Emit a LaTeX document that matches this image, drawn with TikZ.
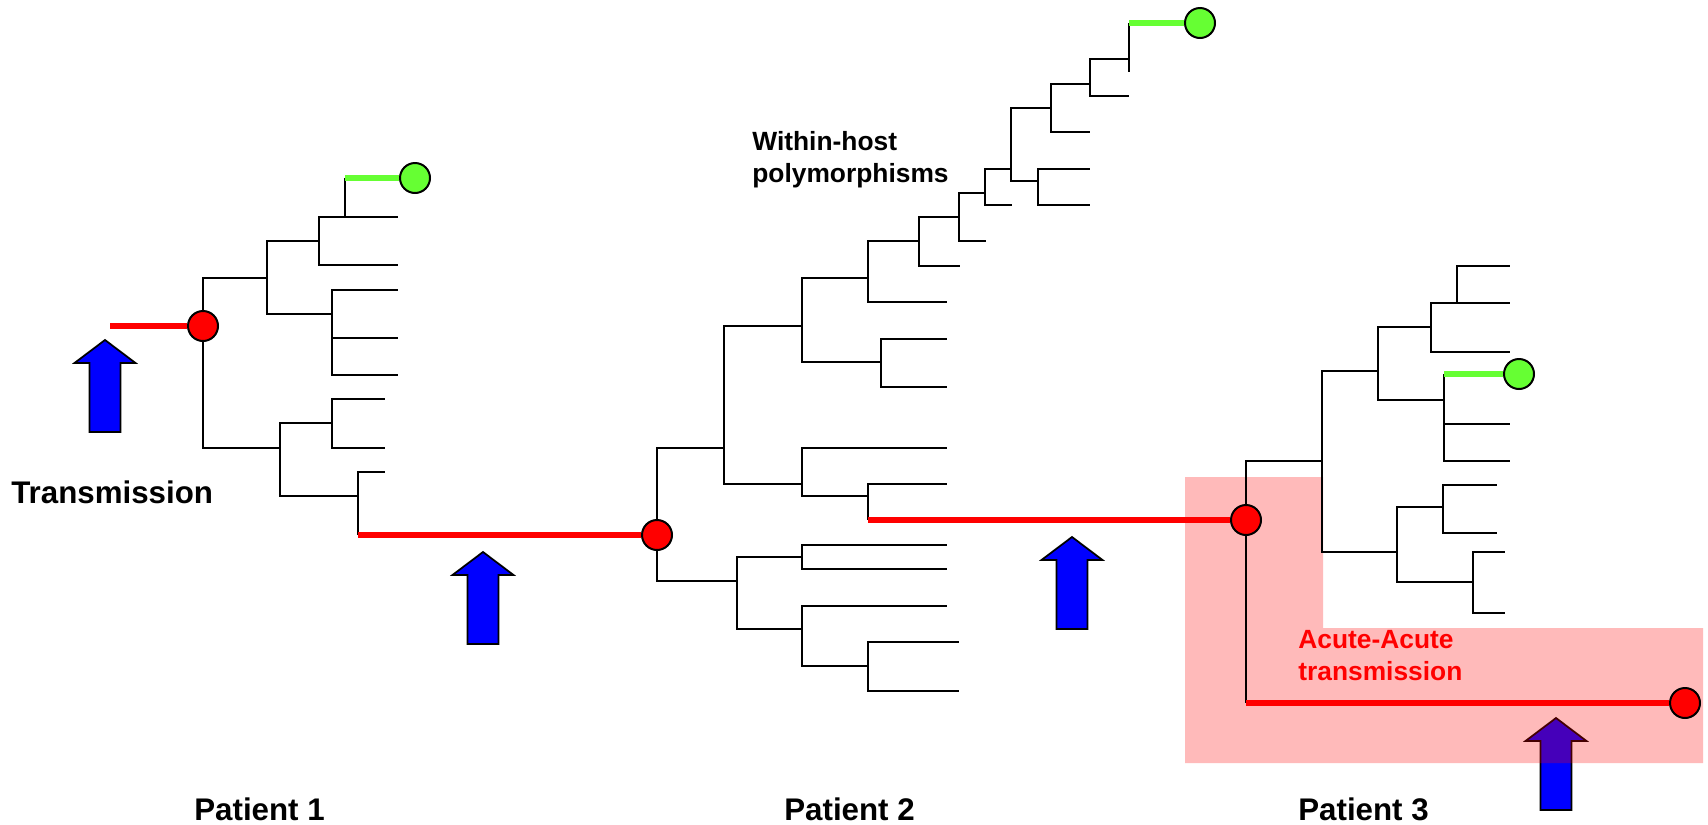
\documentclass[tikz,border=0pt]{standalone}
\usepackage{fontspec}
\setmainfont{Liberation Sans}
\definecolor{limefill}{RGB}{102,255,51}

\begin{document}
\begin{tikzpicture}[
  x=0.02cm, y=-0.02cm,
  branch/.style={line width=0.04cm, draw=black},
  redline/.style={line width=0.11cm, draw=red},
  greenline/.style={line width=0.13cm, draw=limefill},
  redc/.style={circle, draw=black, fill=red, line width=0.04cm, inner sep=0pt, minimum size=0.6cm},
  greenc/.style={redc, fill=limefill},
  arrowbody/.style={draw=black, fill=blue, line width=0.035cm, line join=miter},
  upshaft/.pic={\draw[arrowbody] (0,0) -- (30.5,23) -- (15.5,23) -- (15.5,92)
                  -- (-15.5,92) -- (-15.5,23) -- (-30.5,23) -- cycle;},
  hatch/.style={fill=red, fill opacity=0.27},
  plabel/.style={font=\bfseries\fontsize{17.8}{21}\selectfont, inner sep=0pt, anchor=base west},
  note/.style={font=\bfseries\fontsize{15}{18.1}\selectfont, inner sep=0pt, anchor=base west, align=left}
]
  \useasboundingbox (0,0) rectangle (1708,825);

  % --- FLECHAS DE TRANSMISION ---
  \pic at (105,340) {upshaft};
  \pic at (483,552) {upshaft};
  \pic at (1072,537) {upshaft};
  \pic at (1556,718) {upshaft};

  % zona sombreada (aguda-aguda)
  \fill[hatch] (1185,477) -- (1323,477) -- (1323,628) -- (1703,628)
     -- (1703,763) -- (1185,763) -- cycle;

  % --- PACIENTE 1 ---
  \node[redc] (R1) at (203,326) {};
  \node[greenc] (G1) at (415,178) {};
  \coordinate (in1) at (110,326);
  \coordinate (a1) at (267,278);
  \coordinate (b1) at (280,448);
  \coordinate (c1) at (319,241);
  \coordinate (d1) at (332,314);
  \coordinate (e1) at (345,217);
  \coordinate (f1) at (332,423);
  \coordinate (h1) at (358,496);
  \coordinate (g1) at (345,178);
  \coordinate (out1) at (358,535);
  \coordinate (k1) at (398,217);
  \coordinate (k2) at (398,265);
  \coordinate (k3) at (398,290);
  \coordinate (k4) at (398,338);
  \coordinate (k5) at (398,375);
  \coordinate (k6) at (385,399);
  \coordinate (k7) at (385,448);
  \coordinate (k8) at (385,472);

  \draw[branch] (R1) |- (a1) (R1) |- (b1);
  \draw[branch] (a1) |- (c1) (a1) |- (d1);
  \draw[branch] (c1) |- (e1) (c1) |- (k2);
  \draw[branch] (e1) |- (g1) (e1) |- (k1);
  \draw[branch] (d1) |- (k3) (d1) |- (k4) (d1) |- (k5);
  \draw[branch] (b1) |- (f1) (b1) |- (h1);
  \draw[branch] (f1) |- (k6) (f1) |- (k7);
  \draw[branch] (h1) |- (k8) (h1) |- (out1);
  \draw[redline, line width=0.13cm] (in1) -- (R1);
  \draw[greenline] (g1) -- (G1);

  % --- PACIENTE 2 ---
  \node[redc] (R2) at (657,535) {};
  \node[greenc] (G2) at (1200,23) {};
  \coordinate (p2) at (724,448);
  \coordinate (q2) at (737,581);
  \coordinate (s2) at (802,326);
  \coordinate (t2) at (802,484);
  \coordinate (u2) at (868,278);
  \coordinate (v2) at (881,362);
  \coordinate (w2) at (919,241);
  \coordinate (x1) at (959,217);
  \coordinate (x2) at (985,193);
  \coordinate (x3) at (1011,169);
  \coordinate (x4) at (1051,108);
  \coordinate (x5) at (1038,181);
  \coordinate (x6) at (1090,84);
  \coordinate (x7) at (1129,59);
  \coordinate (g2) at (1129,23);
  \coordinate (y2) at (868,496);
  \coordinate (z1) at (802,557);
  \coordinate (z2) at (802,629);
  \coordinate (z3) at (868,666);
  \coordinate (out2) at (868,520);
  \coordinate (n1) at (947,302);
  \coordinate (n2) at (960,266);
  \coordinate (n3) at (986,241);
  \coordinate (n4) at (1012,205);
  \coordinate (n5) at (1090,132);
  \coordinate (n6) at (1129,96);
  \coordinate (n7) at (1129,72);
  \coordinate (n8) at (1090,169);
  \coordinate (n9) at (1090,205);
  \coordinate (n10) at (947,339);
  \coordinate (n11) at (947,387);
  \coordinate (n12) at (947,448);
  \coordinate (n13) at (947,484);
  \coordinate (n14) at (947,545);
  \coordinate (n15) at (947,569);
  \coordinate (n16) at (947,606);
  \coordinate (n17) at (959,642);
  \coordinate (n18) at (959,691);

  \draw[branch] (R2) |- (p2) (R2) |- (q2);
  \draw[branch] (p2) |- (s2) (p2) |- (t2);
  \draw[branch] (s2) |- (u2) (s2) |- (v2);
  \draw[branch] (u2) |- (w2) (u2) |- (n1);
  \draw[branch] (w2) |- (x1) (w2) |- (n2);
  \draw[branch] (x1) |- (x2) (x1) |- (n3);
  \draw[branch] (x2) |- (x3) (x2) |- (n4);
  \draw[branch] (x3) |- (x4) (x3) |- (x5);
  \draw[branch] (x4) |- (x6) (x4) |- (n5);
  \draw[branch] (x6) |- (x7) (x6) |- (n6);
  \draw[branch] (x7) |- (g2) (x7) |- (n7);
  \draw[branch] (x5) |- (n8) (x5) |- (n9);
  \draw[branch] (v2) |- (n10) (v2) |- (n11);
  \draw[branch] (t2) |- (n12) (t2) |- (y2);
  \draw[branch] (y2) |- (n13) (y2) |- (out2);
  \draw[branch] (q2) |- (z1) (q2) |- (z2);
  \draw[branch] (z1) |- (n14) (z1) |- (n15);
  \draw[branch] (z2) |- (n16) (z2) |- (z3);
  \draw[branch] (z3) |- (n17) (z3) |- (n18);
  \draw[redline] (out1) -- (R2);
  \draw[greenline] (g2) -- (G2);

  % --- PACIENTE 3 ---
  \node[redc] (R3) at (1246,520) {};
  \node[redc] (R4) at (1685,703) {};
  \node[greenc] (G3) at (1519,374) {};
  \coordinate (m1) at (1322,461);
  \coordinate (m2) at (1378,371);
  \coordinate (m3) at (1397,552);
  \coordinate (m4) at (1431,327);
  \coordinate (m5) at (1444,400);
  \coordinate (m6) at (1457,303);
  \coordinate (m7) at (1443,507);
  \coordinate (m8) at (1473,582);
  \coordinate (g3) at (1444,374);
  \coordinate (out3) at (1246,703);
  \coordinate (j1) at (1510,352);
  \coordinate (j2) at (1510,266);
  \coordinate (j3) at (1510,303);
  \coordinate (j4) at (1510,424);
  \coordinate (j5) at (1510,461);
  \coordinate (j6) at (1497,485);
  \coordinate (j7) at (1497,533);
  \coordinate (j8) at (1505,552);
  \coordinate (j9) at (1505,613);

  \draw[branch] (R3) |- (m1) (R3) |- (out3);
  \draw[branch] (m1) |- (m2) (m1) |- (m3);
  \draw[branch] (m2) |- (m4) (m2) |- (m5);
  \draw[branch] (m4) |- (m6) (m4) |- (j1);
  \draw[branch] (m6) |- (j2) (m6) |- (j3);
  \draw[branch] (m5) |- (g3) (m5) |- (j4) (m5) |- (j5);
  \draw[branch] (m3) |- (m7) (m3) |- (m8);
  \draw[branch] (m7) |- (j6) (m7) |- (j7);
  \draw[branch] (m8) |- (j8) (m8) |- (j9);
  \draw[redline] (out2) -- (R3);
  \draw[redline] (out3) -- (R4);
  \draw[greenline] (g3) -- (G3);

  % --- TEXTOS ---
  % (los textos de dos lineas se anclan en la linea de abajo)
  \node[plabel] (ttrans) at (11,503) {Transmission};
  \node[note] (tpoly) at (752,182) {Within-host\\polymorphisms};
  \node[note, text=red] (tacute) at (1298,680) {Acute-Acute\\transmission};
  \node[plabel] (tp1) at (194,820) {Patient 1};
  \node[plabel] (tp2) at (784,820) {Patient 2};
  \node[plabel] (tp3) at (1298,820) {Patient 3};
\end{tikzpicture}
\end{document}
